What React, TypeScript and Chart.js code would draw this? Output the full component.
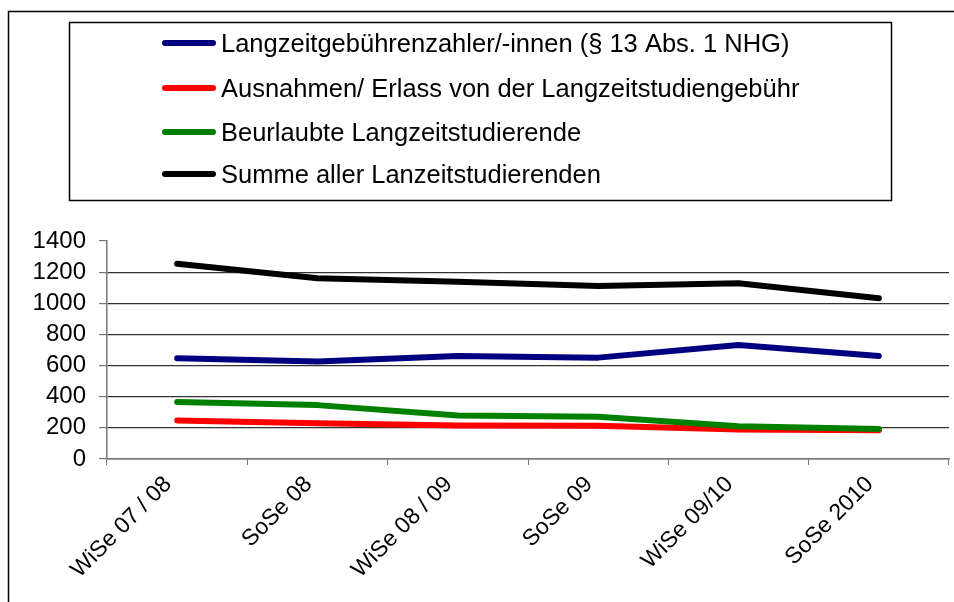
import { useEffect, useRef } from 'react';
import { Chart, registerables } from 'chart.js';
Chart.register(...registerables);

const FONT = '"Liberation Sans", Arial, Helvetica, sans-serif';

const categories = ['WiSe 07 / 08', 'SoSe 08', 'WiSe 08 / 09', 'SoSe 09', 'WiSe 09/10', 'SoSe 2010'];
const seriesNames = [
  'Langzeitgebührenzahler/-innen (§ 13 Abs. 1 NHG)',
  'Ausnahmen/ Erlass von der Langzeitstudiengebühr',
  'Beurlaubte Langzeitstudierende',
  'Summe aller Lanzeitstudierenden',
];
const seriesColors = ['#000080', '#ff0000', '#008000', '#000000'];
const zahler = [647, 626, 662, 651, 732, 662];
const ausnahmen = [248, 230, 215, 214, 190, 184];
const beurlaubt = [366, 346, 279, 272, 210, 193];
const summe = [1254, 1161, 1139, 1111, 1129, 1033];
const yTicks = [0, 200, 400, 600, 800, 1000, 1200, 1400];

const legendPlugin = {
  id: 'boxLegend',
  afterDraw(chart: any) {
    const ctx = chart.ctx;
    ctx.save();
    ctx.strokeStyle = '#000';
    ctx.lineWidth = 1.5;
    ctx.strokeRect(8.5, 11.5, 950, 600);
    ctx.strokeRect(69.5, 22.5, 822, 178);
    const rows = [43, 88, 132, 174];
    seriesNames.forEach((name, i) => {
      const y = rows[i];
      ctx.beginPath();
      ctx.strokeStyle = seriesColors[i];
      ctx.lineWidth = 6;
      ctx.lineCap = 'round';
      ctx.moveTo(165, y);
      ctx.lineTo(213, y);
      ctx.stroke();
      ctx.fillStyle = '#000';
      ctx.font = `25.5px ${FONT}`;
      ctx.textBaseline = 'alphabetic';
      ctx.textAlign = 'left';
      ctx.fillText(name, 221, y + 9);
    });
    ctx.restore();
  },
};

export default function App() {
  const ref = useRef<HTMLCanvasElement>(null);
  useEffect(() => {
    const values = [zahler, ausnahmen, beurlaubt, summe];
    const orders = [3, 2, 1, 0];
    const chart = new Chart(ref.current!, {
      type: 'line',
      data: {
        labels: categories,
        datasets: values.map((v, i) => ({
          label: seriesNames[i],
          data: v,
          borderColor: seriesColors[i],
          backgroundColor: seriesColors[i],
          borderWidth: 6,
          pointRadius: 0,
          tension: 0,
          borderCapStyle: 'round',
          borderJoinStyle: 'round',
          order: orders[i],
        })),
      },
      options: {
        animation: false,
        responsive: true,
        maintainAspectRatio: false,
        layout: { padding: { left: 0, top: 241, right: 5, bottom: 0 } },
        plugins: { legend: { display: false }, tooltip: { enabled: false } },
        scales: {
          x: {
            offset: true,
            grid: {
              offset: true,
              drawOnChartArea: false,
              drawTicks: true,
              tickLength: 6,
              tickColor: '#777',
            },
            border: { color: '#777', width: 1.5 },
            ticks: {
              autoSkip: false,
              maxRotation: 45,
              minRotation: 45,
              color: '#000',
              padding: 6,
              labelOffset: -9,
              font: { family: FONT, size: 23 },
            },
            afterFit: (s: any) => { s.height = 143; },
          },
          y: {
            min: 0,
            max: 1400,
            afterBuildTicks: (s: any) => { s.ticks = yTicks.map((v) => ({ value: v })); },
            grid: {
              color: (c: any) => (c.tick && c.tick.value === 1400 ? 'rgba(0,0,0,0)' : '#333'),
              tickColor: '#777',
              tickLength: 8,
              lineWidth: 1.2,
            },
            border: { color: '#777', width: 1.5 },
            ticks: {
              autoSkip: false,
              color: '#000',
              padding: 13,
              font: { family: FONT, size: 24 },
              callback: (v: any) => String(v),
            },
            afterFit: (s: any) => { s.width = 107; },
          },
        },
      },
      plugins: [legendPlugin],
    });
    return () => chart.destroy();
  }, []);
  return (
    <div style={{ position: 'fixed', left: 0, top: 0, width: 954, height: 602, background: '#fff' }}>
      <canvas ref={ref} />
    </div>
  );
}
